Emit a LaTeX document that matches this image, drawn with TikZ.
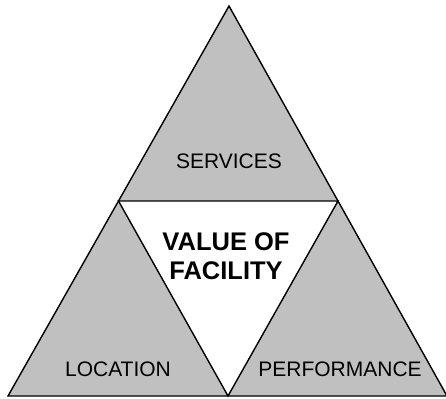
\documentclass[tikz,border=0pt]{standalone}
\usepackage{fontspec}
\setmainfont{Liberation Sans}

\definecolor{panelgray}{RGB}{192,192,192}

\tikzset{
    outline/.style = {line width = 1.4pt, line join = miter},
    label/.style = {font = \fontsize{21}{25}\selectfont, anchor = base},
}

\begin{document}
\begin{tikzpicture}[x = 1pt, y = -1pt]

    \useasboundingbox (0,0) rectangle (446,398);

    %% outer triangle
    \draw [outline, fill = panelgray]
    (229,6) coordinate (apex)
    -- (447,396) coordinate (baseRight)
    -- (8,396) coordinate (baseLeft)
    -- cycle
    ;

    %% inner (upside down) triangle
    \draw [outline, fill = white]
    (118.5,201) coordinate (midLeft)
    -- (338,201) coordinate (midRight)
    -- (228,396) coordinate (midBase)
    -- cycle
    ;

    %% corner labels
    \node [label] (services) at (229,168) {SERVICES};
    \node [label] (location) at (118,376) {LOCATION};
    \node [label] (performance) at (340,376) {PERFORMANCE};

    %% centre label
    \node [align = center, anchor = north,
           font = \fontsize{25.5}{29}\selectfont\bfseries]
    (value) at (226,229) {VALUE OF \\ FACILITY};

\end{tikzpicture}
\end{document}
